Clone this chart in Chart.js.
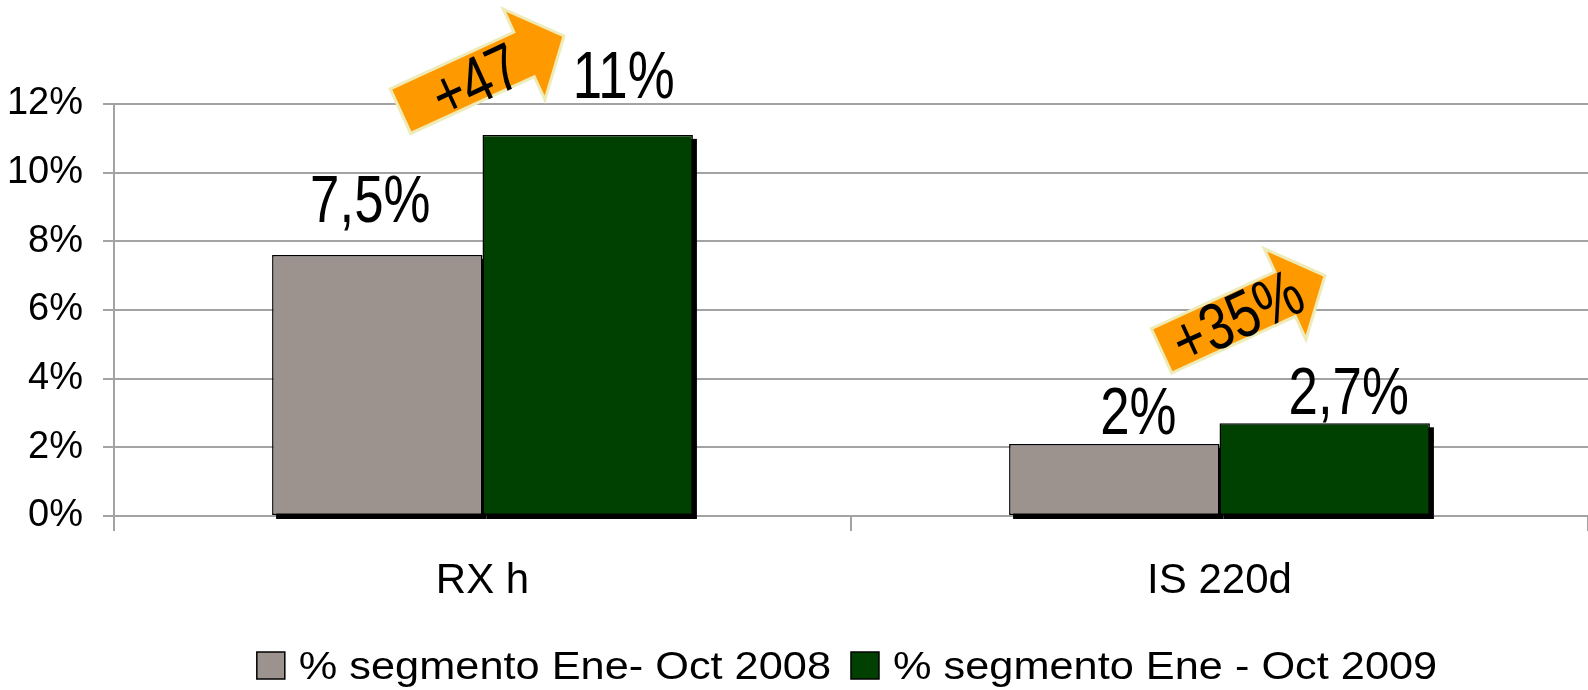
<!DOCTYPE html>
<html>
<head>
<meta charset="utf-8">
<script src="https://cdn.jsdelivr.net/npm/chart.js@4.4.1/dist/chart.umd.min.js"></script>
<style>
  html, body { margin: 0; padding: 0; background: #fff; }
  #wrap { width: 1588px; height: 690px; }
</style>
</head>
<body>
<div id="wrap"><canvas id="barChart"></canvas></div>
<script>
const categories = ['RX h', 'IS 220d'];
const seriesNames = ['% segmento Ene- Oct 2008', '% segmento Ene - Oct 2009'];
const values2008 = [7.6, 2.1];
const values2009 = [11.1, 2.7];
const valueText2008 = ['7,5%', '2%'];
const valueText2009 = ['11%', '2,7%'];
const growthText = ['+47', '+35%'];
const yTickStep = 2;
const yMax = 12;

// label offsets from the bar top centre (px), per dataset / category
const labelShift = [
  [[-7, -33], [24, -10]],
  [[36, -37], [24, -9]]
];
// arrows: tail anchored at category centre + dx, at a y value
const arrowPos = [
  { dx: -82, yVal: 11.79, tu: 81, tv: 8 },
  { dx: -58, yVal: 4.81, tu: 83, tv: 5 }
];
const fontFam = '"Liberation Sans", Arial, sans-serif';
const bigFont = '66px ' + fontFam;
const squeeze = 0.8;
const gridGray = '#a3a3a3';

const shadowPlugin = {
  id: 'barShadow',
  beforeDatasetsDraw(chart) {
    const ctx = chart.ctx;
    ctx.save();
    ctx.fillStyle = '#000';
    chart.data.datasets.forEach((ds, i) => {
      chart.getDatasetMeta(i).data.forEach(bar => {
        const p = bar.getProps(['x', 'y', 'base', 'width'], true);
        ctx.fillRect(p.x - p.width / 2 + 4, p.y + 4, p.width, p.base - p.y);
      });
    });
    ctx.restore();
  }
};

function scaledText(ctx, txt, x, y, sx) {
  ctx.save();
  ctx.translate(x, y);
  ctx.scale(sx, 1);
  ctx.fillText(txt, 0, 0);
  ctx.restore();
}

const labelPlugin = {
  id: 'valueLabels',
  afterDatasetsDraw(chart) {
    const ctx = chart.ctx;
    const texts = [valueText2008, valueText2009];
    ctx.save();
    ctx.font = bigFont;
    ctx.fillStyle = '#000';
    ctx.textAlign = 'center';
    ctx.textBaseline = 'alphabetic';
    chart.data.datasets.forEach((ds, i) => {
      chart.getDatasetMeta(i).data.forEach((bar, j) => {
        const s = labelShift[i][j];
        scaledText(ctx, texts[i][j], bar.x + s[0], bar.y + s[1], squeeze);
      });
    });
    ctx.restore();
  }
};

const arrowPlugin = {
  id: 'growthArrows',
  afterDatasetsDraw(chart) {
    const ctx = chart.ctx;
    const xs = chart.scales.x, ys = chart.scales.y;
    const ang = -24.7 * Math.PI / 180;
    arrowPos.forEach((a, i) => {
      const x0 = xs.getPixelForValue(i) + a.dx;
      const y0 = ys.getPixelForValue(a.yVal);
      ctx.save();
      ctx.translate(x0, y0);
      ctx.rotate(ang);
      ctx.beginPath();
      ctx.moveTo(0, -24.5);
      ctx.lineTo(136, -24.5);
      ctx.lineTo(136, -50);
      ctx.lineTo(180, 0);
      ctx.lineTo(136, 50);
      ctx.lineTo(136, 24.5);
      ctx.lineTo(0, 24.5);
      ctx.closePath();
      ctx.fillStyle = '#ff9900';
      ctx.fill();
      ctx.lineWidth = 3;
      ctx.strokeStyle = '#efebb8';
      ctx.stroke();
      ctx.font = bigFont;
      ctx.fillStyle = '#000';
      ctx.textAlign = 'center';
      ctx.textBaseline = 'middle';
      scaledText(ctx, growthText[i], a.tu, a.tv, squeeze);
      ctx.restore();
    });
  }
};

// legend drawn by hand: the original text is wider than plain Arial
const legendPlugin = {
  id: 'wideLegend',
  afterDraw(chart) {
    const ctx = chart.ctx;
    const box = 28, gapText = 14, gapItem = 20, stretch = 1.14;
    const baseY = 679;
    ctx.save();
    ctx.font = '38px ' + fontFam;
    const widths = chart.data.datasets.map(ds => ctx.measureText(ds.label).width * stretch);
    let total = 0;
    widths.forEach((w, i) => { total += box + gapText + w + (i ? gapItem : 0); });
    let x = chart.width / 2 + 53 - total / 2;
    chart.data.datasets.forEach((ds, i) => {
      ctx.fillStyle = ds.backgroundColor;
      ctx.fillRect(x, baseY - 27, box, 27);
      ctx.lineWidth = 1.5;
      ctx.strokeStyle = '#000';
      ctx.strokeRect(x, baseY - 27, box, 27);
      x += box + gapText;
      ctx.fillStyle = '#000';
      ctx.textAlign = 'left';
      ctx.textBaseline = 'alphabetic';
      scaledText(ctx, ds.label, x, baseY, stretch);
      x += widths[i] + gapItem;
    });
    ctx.restore();
  }
};

const barData = {
  labels: categories,
  datasets: [{
    label: seriesNames[0],
    data: values2008,
    backgroundColor: '#9c938e',
    borderColor: '#000',
    borderWidth: 1.5,
    borderSkipped: false
  }, {
    label: seriesNames[1],
    data: values2009,
    backgroundColor: '#004000',
    borderColor: '#000',
    borderWidth: 1.5,
    borderSkipped: false
  }]
};

const barConfig = {
  type: 'bar',
  data: barData,
  options: {
    responsive: true,
    maintainAspectRatio: false,
    animation: false,
    layout: { padding: { left: 0, top: 104, right: 0, bottom: 74 } },
    datasets: {
      bar: { barPercentage: 1, categoryPercentage: 0.571 }
    },
    scales: {
      x: {
        afterFit(s) { s.height = 100; },
        grid: {
          offset: true,
          drawOnChartArea: false,
          tickLength: 15,
          color: gridGray,
          lineWidth: 2
        },
        border: { color: gridGray, width: 2 },
        ticks: {
          padding: 25,
          color: '#000',
          font: { family: fontFam, size: 42 }
        }
      },
      y: {
        min: 0,
        max: yMax,
        afterFit(s) { s.width = 114; },
        grid: { color: gridGray, lineWidth: 2, tickLength: 11 },
        border: { color: gridGray, width: 2 },
        ticks: {
          stepSize: yTickStep,
          padding: 20,
          color: '#000',
          font: { family: fontFam, size: 38 },
          callback: v => v + '%'
        }
      }
    },
    plugins: {
      tooltip: { enabled: false },
      legend: { display: false }
    }
  },
  plugins: [shadowPlugin, labelPlugin, arrowPlugin, legendPlugin]
};

const barChart = new Chart(document.getElementById('barChart'), barConfig);
</script>
</body>
</html>
